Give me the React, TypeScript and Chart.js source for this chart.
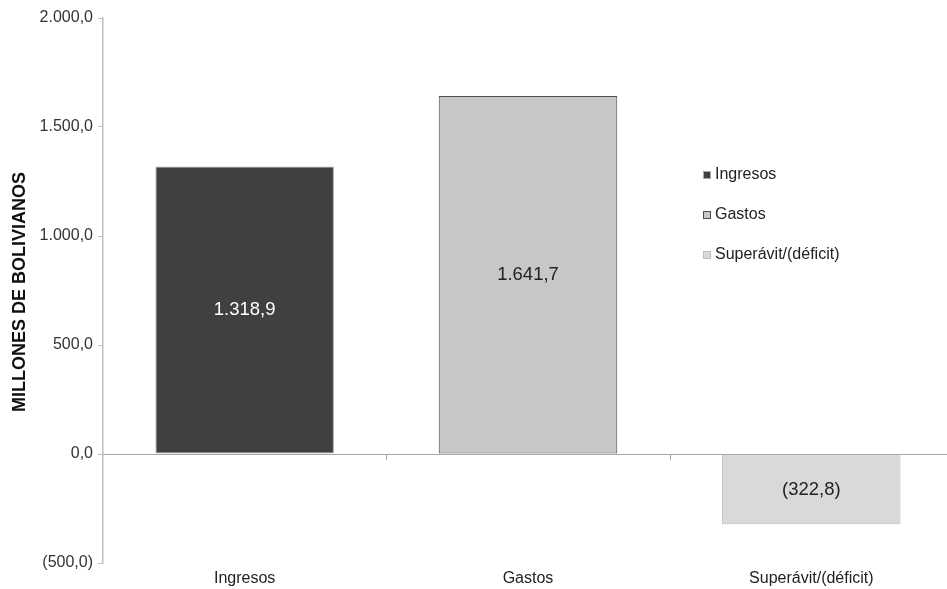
import React, { useEffect, useRef } from "react";
import { Chart, registerables } from "chart.js";

Chart.register(...registerables);

const categories = ["Ingresos", "Gastos", "Superávit/(déficit)"];
const values = [1318.9, 1641.7, -322.8];
const fillColors = ["#404040", "#c6c7c9", "#d9d9db"];
const borderColors = ["#a6a6a6", "#4d4d4d", "#bdbdbd"];
const valueLabelColors = ["#ffffff", "#222222", "#222222"];
const yMin = -500;
const yMax = 2000;
const yStep = 500;
const yTitle = "MILLONES DE BOLIVIANOS";

const FONT = "'Liberation Sans', Arial, sans-serif";

function fmt(v: number): string {
  const s = Math.abs(v).toFixed(1);
  const [i, d] = s.split(".");
  const withDots = i.replace(/\B(?=(\d{3})+(?!\d))/g, ".");
  const out = withDots + "," + d;
  return v < 0 ? "(" + out + ")" : out;
}

const customPlugin = {
  id: "custom",
  beforeDatasetsDraw(chart: any) {
    const { ctx, chartArea, scales } = chart;
    const y0 = scales.y.getPixelForValue(0);
    ctx.save();
    ctx.strokeStyle = "#a6a6a6";
    ctx.lineWidth = 1;
    ctx.beginPath();
    ctx.moveTo(chartArea.left, Math.round(y0) + 0.5);
    ctx.lineTo(chartArea.right, Math.round(y0) + 0.5);
    const w = (chartArea.right - chartArea.left) / categories.length;
    for (let k = 1; k <= categories.length; k++) {
      const x = Math.round(chartArea.left + k * w) + 0.5;
      ctx.moveTo(x, Math.round(y0));
      ctx.lineTo(x, Math.round(y0) + 6);
    }
    ctx.stroke();
    ctx.restore();
  },
  afterDraw(chart: any) {
    const { ctx } = chart;
    const meta = chart.getDatasetMeta(0);
    ctx.save();
    // value labels
    ctx.font = "18.5px " + FONT;
    ctx.textAlign = "center";
    ctx.textBaseline = "middle";
    meta.data.forEach((bar: any, i: number) => {
      ctx.fillStyle = valueLabelColors[i];
      ctx.fillText(fmt(values[i]), bar.x, (bar.y + bar.base) / 2);
    });
    // y title
    ctx.save();
    ctx.translate(20, 292);
    ctx.rotate(-Math.PI / 2);
    ctx.font = "bold 18px " + FONT;
    ctx.fillStyle = "#111111";
    ctx.fillText(yTitle, 0, 0);
    ctx.restore();
    // legend
    ctx.font = "16px " + FONT;
    ctx.textAlign = "left";
    ctx.textBaseline = "middle";
    categories.forEach((c, i) => {
      const cy = 175 + i * 40;
      ctx.fillStyle = fillColors[i];
      ctx.fillRect(703, cy - 4, 8, 8);
      ctx.strokeStyle = borderColors[i];
      ctx.lineWidth = 1;
      ctx.strokeRect(703.5, cy - 3.5, 7, 7);
      ctx.fillStyle = "#222222";
      ctx.fillText(c, 715, cy);
    });
    ctx.restore();
  },
};

export default function App() {
  const ref = useRef<HTMLCanvasElement | null>(null);
  useEffect(() => {
    if (!ref.current) return;
    const chart = new Chart(ref.current, {
      type: "bar",
      data: {
        labels: categories,
        datasets: [
          {
            label: "Valores",
            data: values,
            backgroundColor: fillColors,
            borderColor: borderColors,
            borderWidth: 1,
            borderSkipped: false,
            barPercentage: 0.63,
            categoryPercentage: 1,
          },
        ],
      },
      options: {
        responsive: false,
        animation: false,
        devicePixelRatio: 1,
        layout: { padding: { top: 18, right: 0, left: 0, bottom: 0 } },
        plugins: {
          legend: { display: false },
          tooltip: { enabled: false },
        },
        scales: {
          x: {
            grid: { display: false, drawTicks: false },
            border: { display: false },
            ticks: {
              font: { family: FONT, size: 16 },
              color: "#222222",
              padding: 6,
              maxRotation: 0,
              autoSkip: false,
            },
            afterFit(scale: any) {
              scale.height = 26;
            },
          },
          y: {
            min: yMin,
            max: yMax,
            grid: {
              drawOnChartArea: false,
              drawTicks: true,
              tickLength: 5,
              color: "#bfbfbf",
            },
            border: { display: true, color: "#bfbfbf", width: 1.5 },
            ticks: {
              stepSize: yStep,
              font: { family: FONT, size: 16 },
              color: "#333333",
              padding: 5,
              callback: (v: any) => fmt(Number(v)),
            },
            afterFit(scale: any) {
              scale.width = 103;
            },
          },
        },
      },
      plugins: [customPlugin],
    } as any);
    return () => chart.destroy();
  }, []);
  return (
    <div
      style={{
        position: "fixed",
        left: 0,
        top: 0,
        width: 947,
        height: 589,
        overflow: "hidden",
        background: "#ffffff",
      }}
    >
      <canvas ref={ref} width={953} height={589} style={{ display: "block" }} />
    </div>
  );
}
